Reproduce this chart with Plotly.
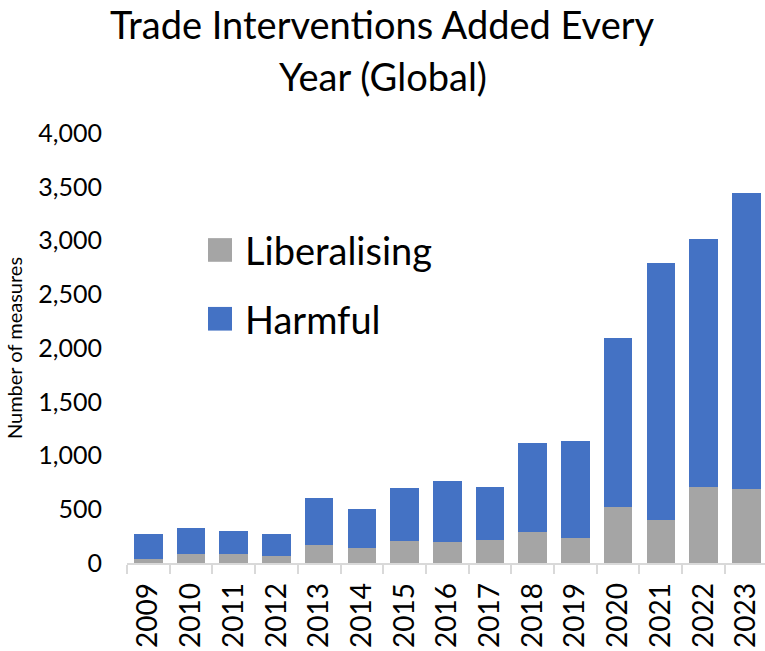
import plotly.graph_objects as go

years = [str(y) for y in range(2009, 2024)]
liberalising = [34, 87, 81, 62, 167, 143, 202, 192, 217, 291, 233, 518, 397, 704, 691]
harmful = [239, 235, 220, 205, 441, 359, 493, 574, 493, 825, 902, 1575, 2397, 2307, 2748]
title_lines = ["Trade Interventions Added Every", "Year (Global)"]

GRAY = "#A5A5A5"
BLUE = "#4472C4"
FONT = "Lato"

fig = go.Figure()
fig.add_trace(go.Bar(x=years, y=liberalising, name="Liberalising",
                     marker=dict(color=GRAY, line=dict(width=0)), showlegend=False))
fig.add_trace(go.Bar(x=years, y=harmful, name="Harmful",
                     marker=dict(color=BLUE, line=dict(width=0)), showlegend=False))

# legend drawn as swatches + text
legend_items = [("Liberalising", GRAY, 0.728), ("Harmful", BLUE, 0.568)]
for label, col, yc in legend_items:
    fig.add_shape(type="rect", xref="paper", yref="paper",
                  x0=0.127, x1=0.1646, y0=yc - 0.0275, y1=yc + 0.0275,
                  fillcolor=col, line=dict(width=0))
    fig.add_annotation(xref="paper", yref="paper", x=0.182, y=yc,
                       xanchor="left", yanchor="middle", showarrow=False,
                       text=label, font=dict(family=FONT, size=38, color="black"))

# two-line title as centred annotations
for line, yp in zip(title_lines, [1.2535, 1.1326]):
    fig.add_annotation(xref="paper", yref="paper", x=(382.5 - 127) / 638, y=yp,
                       xanchor="center", yanchor="middle", showarrow=False,
                       text=line, font=dict(family=FONT, size=38, color="black"))

fig.update_layout(
    width=765, height=651,
    margin=dict(l=127, r=0, t=133, b=88),
    template="none",
    paper_bgcolor="white", plot_bgcolor="white",
    barmode="stack", bargap=0.33,
    font=dict(family=FONT, color="black"),
    showlegend=False,
)
fig.update_yaxes(range=[0, 4000], dtick=500, tickformat=",", showgrid=False,
                 showline=False, ticks="", zeroline=False, automargin=False,
                 tickfont=dict(family=FONT, size=25, color="black"),
                 ticklabelstandoff=24,
                 title=dict(text="Number of measures", standoff=10,
                            font=dict(family=FONT, size=20, color="black")))
fig.update_xaxes(type="category", range=[-0.5, 14.44], showgrid=False,
                 ticks="outside", tickson="boundaries", ticklen=9,
                 tickcolor="#D9D9D9", tickwidth=1.5,
                 showline=True, linecolor="#D9D9D9", linewidth=1.5,
                 tickangle=-90, automargin=False, ticklabelstandoff=7,
                 tickfont=dict(family=FONT, size=28, color="black"))

fig.write_html("out.html")
